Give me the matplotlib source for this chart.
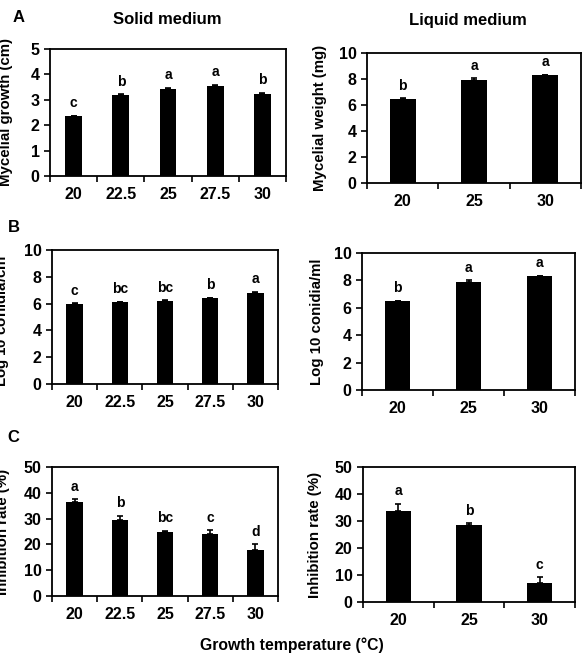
"""Growth of the fungus on solid vs liquid medium at different temperatures."""

import matplotlib.pyplot as plt
import numpy as np

plt.rcParams["font.family"] = ["Liberation Sans", "DejaVu Sans"]
plt.rcParams["font.weight"] = "bold"

solid_temps = ["20", "22.5", "25", "27.5", "30"]
liquid_temps = ["20", "25", "30"]

# panel A
growth_cm = [2.35, 3.18, 3.42, 3.55, 3.22]
growth_err = [0.03, 0.04, 0.05, 0.04, 0.05]
growth_letters = ["c", "b", "a", "a", "b"]
weight_mg = [6.5, 7.95, 8.3]
weight_err = [0.03, 0.12, 0.04]
weight_letters = ["b", "a", "a"]

# panel B
conidia_cm2 = [6.0, 6.12, 6.22, 6.4, 6.82]
conidia_cm2_err = [0.02, 0.03, 0.03, 0.04, 0.08]
conidia_cm2_letters = ["c", "bc", "bc", "b", "a"]
conidia_ml = [6.48, 7.9, 8.3]
conidia_ml_err = [0.03, 0.12, 0.03]
conidia_ml_letters = ["b", "a", "a"]

# panel C
inhib_solid = [36.3, 29.4, 24.8, 24.2, 17.8]
inhib_solid_err = [1.2, 1.6, 0.5, 1.3, 2.3]
inhib_solid_letters = ["a", "b", "bc", "c", "d"]
inhib_liquid = [33.8, 28.6, 7.0]
inhib_liquid_err = [2.6, 0.6, 2.2]
inhib_liquid_letters = ["a", "b", "c"]

W, H = 585, 655
fig = plt.figure(figsize=(W / 100, H / 100), dpi=100)


def px_axes(x0, y0, x1, y1):
    return fig.add_axes([x0 / W, 1 - y1 / H, (x1 - x0) / W, (y1 - y0) / H])


def bar_panel(ax, cats, vals, errs, letters, ymax, ystep, ylabel, label_x):
    x = np.arange(len(cats))
    ax.bar(x, vals, width=0.36, color="black", zorder=2)
    ax.errorbar(x, vals, yerr=[np.zeros(len(vals)), errs], fmt="none",
                ecolor="black", elinewidth=1.2, capsize=2.5, capthick=1.2, zorder=3)
    for xi, v, e, lab in zip(x, vals, errs, letters):
        ax.annotate(lab, (xi, v + e), xytext=(0, 4), textcoords="offset points",
                    ha="center", va="bottom", fontsize=10, fontweight="bold")
    ax.set_xlim(-0.5, len(cats) - 0.5)
    ax.set_ylim(0, ymax)
    ax.set_yticks(np.arange(0, ymax + 0.01, ystep))
    ax.set_xticks(x)
    ax.set_xticklabels(cats)
    ax.set_xticks(np.arange(-0.5, len(cats)), minor=True)
    ax.tick_params(axis="x", which="major", length=0, pad=8, labelsize=11.5)
    ax.tick_params(axis="x", which="minor", length=4, width=1.2, direction="out")
    ax.tick_params(axis="y", length=4, width=1.2, direction="out", labelsize=11.5)
    for lab in ax.get_xticklabels() + ax.get_yticklabels():
        lab.set_fontweight("bold")
    for sp in ax.spines.values():
        sp.set_linewidth(1.3)
    # label_x is the pixel where the (rotated) label text ends on the right
    ax.set_ylabel(ylabel, fontsize=10.8, fontweight="bold")
    bb = ax.get_position()
    ax.yaxis.set_label_coords((label_x / W - bb.x0) / bb.width, 0.5)


axA1 = px_axes(50, 49, 286, 176)
bar_panel(axA1, solid_temps, growth_cm, growth_err, growth_letters, 5, 1,
          "Mycelial growth (cm)", 13)
axA2 = px_axes(367, 53, 581, 183)
bar_panel(axA2, liquid_temps, weight_mg, weight_err, weight_letters, 10, 2,
          "Mycelial weight (mg)", 327)

axB1 = px_axes(52, 250, 278, 384)
bar_panel(axB1, solid_temps, conidia_cm2, conidia_cm2_err, conidia_cm2_letters, 10, 2,
          "Log 10 conidia/cm$^\\mathbf{2}$", 12)
axB2 = px_axes(362, 253, 575, 390)
bar_panel(axB2, liquid_temps, conidia_ml, conidia_ml_err, conidia_ml_letters, 10, 2,
          "Log 10 conidia/ml", 324)

axC1 = px_axes(52, 467, 278, 596)
bar_panel(axC1, solid_temps, inhib_solid, inhib_solid_err, inhib_solid_letters, 50, 10,
          "Inhibition rate (%)", 10)
axC2 = px_axes(363, 467, 575, 602)
bar_panel(axC2, liquid_temps, inhib_liquid, inhib_liquid_err, inhib_liquid_letters, 50, 10,
          "Inhibition rate (%)", 322)

fig.text(167 / W, 1 - 19 / H, "Solid medium", ha="center", va="center",
         fontsize=12, fontweight="bold")
fig.text(468 / W, 1 - 20 / H, "Liquid medium", ha="center", va="center",
         fontsize=12, fontweight="bold")
for lab, (px, py) in {"A": (19, 18), "B": (14, 228), "C": (13, 438)}.items():
    fig.text(px / W, 1 - py / H, lab, ha="center", va="center",
             fontsize=12, fontweight="bold")
fig.text(292 / W, 1 - 645 / H, "Growth temperature (°C)", ha="center", va="center",
         fontsize=11.3, fontweight="bold")

fig.savefig("out.png", dpi=100)
